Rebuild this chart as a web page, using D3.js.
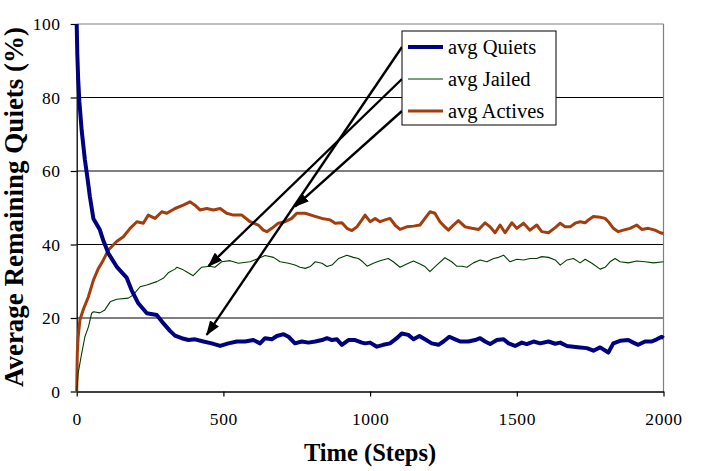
<!DOCTYPE html>
<html>
<head>
<meta charset="utf-8">
<script src="https://cdn.jsdelivr.net/npm/d3@7"></script>
<style>
  html, body { margin: 0; padding: 0; background: #fff; }
  svg { display: block; }
  text { font-family: "Liberation Serif", "Times New Roman", serif; }
</style>
</head>
<body>
<svg id="chart" width="708" height="471"></svg>
<script>
// ---- data ----
const xTicks = [0, 500, 1000, 1500, 2000];
const yTicks = [0, 20, 40, 60, 80, 100];
const seriesNames = ["avg Quiets", "avg Jailed", "avg Actives"];
const seriesColors = ["#000080", "#003f00", "#a33d0d"];
const seriesWidths = [4, 1.1, 3];

const quietsSteps = [0,2,5,9,17,28,36,45,57,79,91,108,136,170,187,210,239,273,295,318,335,358,381,403,432,460,489,517,546,574,602,625,642,665,682,705,722,744,767,790,813,836,853,870,887,904,926,949,972,983,1000,1023,1045,1068,1091,1108,1130,1148,1168,1187,1210,1233,1250,1270,1290,1307,1335,1358,1375,1392,1409,1432,1455,1472,1494,1517,1534,1557,1580,1608,1631,1648,1671,1693,1716,1739,1761,1784,1812,1829,1852,1880,1897,1914,1937,1960,1977,1994,2000];
const quietsValues = [100,92,85,79,71,63,58.5,53,47,44,41,37.6,34,31,27.6,24,21.3,20.8,18.6,16.5,15.2,14.5,14,14.2,13.6,13.1,12.4,13.1,13.6,13.6,14,13.1,14.5,14.2,15.1,15.6,14.9,13.1,13.6,13.3,13.6,14,14.5,14,14.2,12.7,14,14,13.3,13.1,13.3,12.2,12.7,13.1,14.5,15.8,15.4,14.2,15.1,14.2,13.1,12.7,13.6,14.9,14.2,13.6,13.6,14,14.5,13.6,12.9,14,14.2,13.1,12.4,13.3,12.9,13.6,13.1,13.6,13,13.3,12.4,12.2,12,11.8,11.1,12,10.6,13.1,13.8,14,13.3,12.7,13.6,13.6,14.2,14.9,14.5];

const jailedSteps = [0,5,17,28,40,51,57,79,96,114,136,176,193,216,239,273,295,312,335,341,363,374,397,425,454,471,494,523,551,591,619,642,671,693,722,744,761,779,796,813,836,853,870,893,921,943,960,975,990,1011,1034,1062,1079,1102,1125,1148,1170,1187,1204,1227,1255,1278,1295,1313,1330,1352,1375,1398,1421,1438,1455,1477,1500,1523,1545,1568,1585,1608,1631,1648,1671,1693,1716,1733,1756,1784,1801,1818,1835,1852,1880,1909,1937,1966,2000];
const jailedValues = [0,5,10.4,14.9,17.6,21.3,21.7,21.4,22.2,24.4,25.1,25.4,26.3,28.5,29,29.9,30.8,32.3,33.3,33.8,33.1,32.6,31.5,33.8,34.1,33.8,35.3,35.6,34.9,35.3,36.2,37,36.5,35.3,34.9,34.4,33.8,33.5,34,35.3,34.9,34,34.4,36.2,37.1,36.5,36.2,35.3,34.1,34.9,35.6,36.2,35.3,33.8,34.7,35.5,34.7,34,32.6,34.4,36.4,35.3,34.1,34.1,33.8,35,35.8,35.3,36.2,36.5,37.1,35.3,36,35.8,36.2,36.2,36.7,36.5,35.8,34.4,35.8,36.2,35,36,34.9,33.3,33.8,35.3,36.2,35.3,35,35.5,35.3,35,35.3];

const activesSteps = [0,2,5,11,22,40,57,74,91,108,136,159,182,205,227,244,267,290,307,335,363,386,403,420,443,466,489,511,534,563,591,619,636,648,665,687,710,733,750,779,807,836,864,881,904,921,938,955,972,983,1000,1017,1034,1051,1068,1085,1102,1125,1148,1170,1187,1204,1221,1238,1255,1267,1284,1301,1324,1347,1370,1392,1409,1426,1443,1460,1483,1500,1523,1545,1568,1585,1608,1631,1648,1665,1682,1699,1716,1733,1744,1761,1784,1801,1812,1829,1846,1863,1886,1909,1926,1948,1971,1989,2000];
const activesValues = [0,10.4,14.9,19.5,22.2,25.8,30.3,33.5,35.8,38.5,40.8,42.1,44.4,46.2,45.8,48,47.1,48.9,48.5,49.8,50.7,51.6,50.7,49.4,49.8,49.4,49.8,48.5,48,48,46.2,45.3,43.9,43.5,44.4,45.8,46.2,47.1,48.5,48.5,47.8,47.1,46.7,45.8,45.9,44.4,43.8,44.8,46.7,48,46.2,47.1,46.2,46.7,47.1,45.3,44.1,44.8,45,45.3,47.1,48.9,48.5,46.2,44.8,43.9,45.3,46.5,44.8,44.4,44.1,45.9,44.8,43.2,45.3,43.2,45.9,44.4,45.8,43.9,45.3,43.5,43.2,44.6,45.8,44.8,44.8,45.8,46.2,45.9,46.7,47.6,47.4,47.1,46.2,44.4,43.5,43.9,44.4,45.3,44.1,44.4,43.9,43.2,43];

// arrow targets (step, value) for each legend entry
const arrowSteps = [443, 449, 744];
const arrowValues = [15.4, 34.1, 50.3];

// ---- layout ----
const W = 708, H = 471;
const plot = { left: 76.7, right: 663.5, top: 24, bottom: 391.5 };

const svg = d3.select("#chart");
svg.append("rect").attr("width", W).attr("height", H).attr("fill", "#fff");

const x = d3.scaleLinear().domain([0, 2000]).range([plot.left, plot.right]);
const y = d3.scaleLinear().domain([0, 100]).range([plot.bottom, plot.top]);

// gridlines
svg.append("g").selectAll("line")
  .data(yTicks.filter(d => d > 0 && d < 100))
  .join("line")
  .attr("x1", plot.left).attr("x2", plot.right)
  .attr("y1", d => y(d)).attr("y2", d => y(d))
  .attr("stroke", "#000").attr("stroke-width", 1.2);

// plot border (top & right gray)
svg.append("line").attr("x1", plot.left).attr("x2", plot.right)
  .attr("y1", y(100)).attr("y2", y(100)).attr("stroke", "#808080").attr("stroke-width", 1.2);
svg.append("line").attr("x1", plot.right).attr("x2", plot.right)
  .attr("y1", y(100)).attr("y2", y(0)).attr("stroke", "#808080").attr("stroke-width", 1.2);

// axes
const fmt = d3.format("d");
const xAxis = d3.axisBottom(x).tickValues(xTicks).tickFormat(fmt).tickSize(5).tickPadding(16).tickSizeOuter(0);
const gx = svg.append("g").attr("transform", `translate(0,${plot.bottom})`).call(xAxis);
gx.select(".domain").attr("stroke", "#000").attr("stroke-width", 1.3);
gx.selectAll(".tick line").attr("stroke", "#000").attr("stroke-width", 1.2);
gx.selectAll("text").attr("font-size", 17.5).attr("fill", "#000")
  .attr("letter-spacing", 0.6)
  .style("font-family", '"Liberation Serif", serif');

const yAxis = d3.axisLeft(y).tickValues(yTicks).tickFormat(fmt).tickSize(6).tickPadding(10).tickSizeOuter(0);
const gy = svg.append("g").attr("transform", `translate(${plot.left},0)`).call(yAxis);
gy.select(".domain").attr("stroke", "#000").attr("stroke-width", 1.3);
gy.selectAll(".tick line").attr("stroke", "#000").attr("stroke-width", 1.2);
gy.selectAll("text").attr("font-size", 17.5).attr("fill", "#000")
  .attr("letter-spacing", 0.6)
  .style("font-family", '"Liberation Serif", serif');

// axis titles
svg.append("text")
  .attr("x", 370).attr("y", 461)
  .attr("text-anchor", "middle").attr("font-size", 24.5).attr("font-weight", "bold")
  .text("Time (Steps)");
svg.append("text")
  .attr("transform", `translate(23,207) rotate(-90)`)
  .attr("text-anchor", "middle").attr("font-size", 27).attr("font-weight", "bold")
  .text("Average Remaining Quiets (%)");

// series
const line = d3.line().x(d => x(d[0])).y(d => y(d[1]));
const series = [
  d3.zip(quietsSteps, quietsValues),
  d3.zip(jailedSteps, jailedValues),
  d3.zip(activesSteps, activesValues)
];
const drawOrder = [2, 1, 0];
drawOrder.forEach(i => {
  svg.append("path")
    .datum(series[i])
    .attr("d", line)
    .attr("fill", "none")
    .attr("stroke", seriesColors[i])
    .attr("stroke-width", seriesWidths[i])
    .attr("stroke-linejoin", "round");
});

// legend layout
const legend = { x: 402, y: 31, w: 154, h: 94, rowY: [47, 79, 111] };

// arrows
svg.append("defs").append("marker")
  .attr("id", "ah").attr("markerUnits", "userSpaceOnUse")
  .attr("viewBox", "0 0 14 10").attr("refX", 13).attr("refY", 5)
  .attr("markerWidth", 15).attr("markerHeight", 11).attr("orient", "auto")
  .append("path").attr("d", "M0,0 L14,5 L0,10 Z").attr("fill", "#000");

svg.append("g").selectAll("line")
  .data(d3.range(3))
  .join("line")
  .attr("x1", legend.x).attr("y1", i => legend.rowY[i])
  .attr("x2", i => x(arrowSteps[i])).attr("y2", i => y(arrowValues[i]))
  .attr("stroke", "#000").attr("stroke-width", 2.4)
  .attr("marker-end", "url(#ah)");

// legend
const lg = svg.append("g");
lg.append("rect").attr("x", legend.x).attr("y", legend.y)
  .attr("width", legend.w).attr("height", legend.h)
  .attr("fill", "#fff").attr("stroke", "#000").attr("stroke-width", 1);
seriesNames.forEach((name, i) => {
  lg.append("line").attr("x1", legend.x + 6).attr("x2", legend.x + 41)
    .attr("y1", legend.rowY[i]).attr("y2", legend.rowY[i])
    .attr("stroke", seriesColors[i]).attr("stroke-width", seriesWidths[i]);
  lg.append("text").attr("x", legend.x + 46).attr("y", legend.rowY[i] + 7)
    .attr("font-size", 20.5).attr("fill", "#000").text(name);
});
</script>
</body>
</html>
